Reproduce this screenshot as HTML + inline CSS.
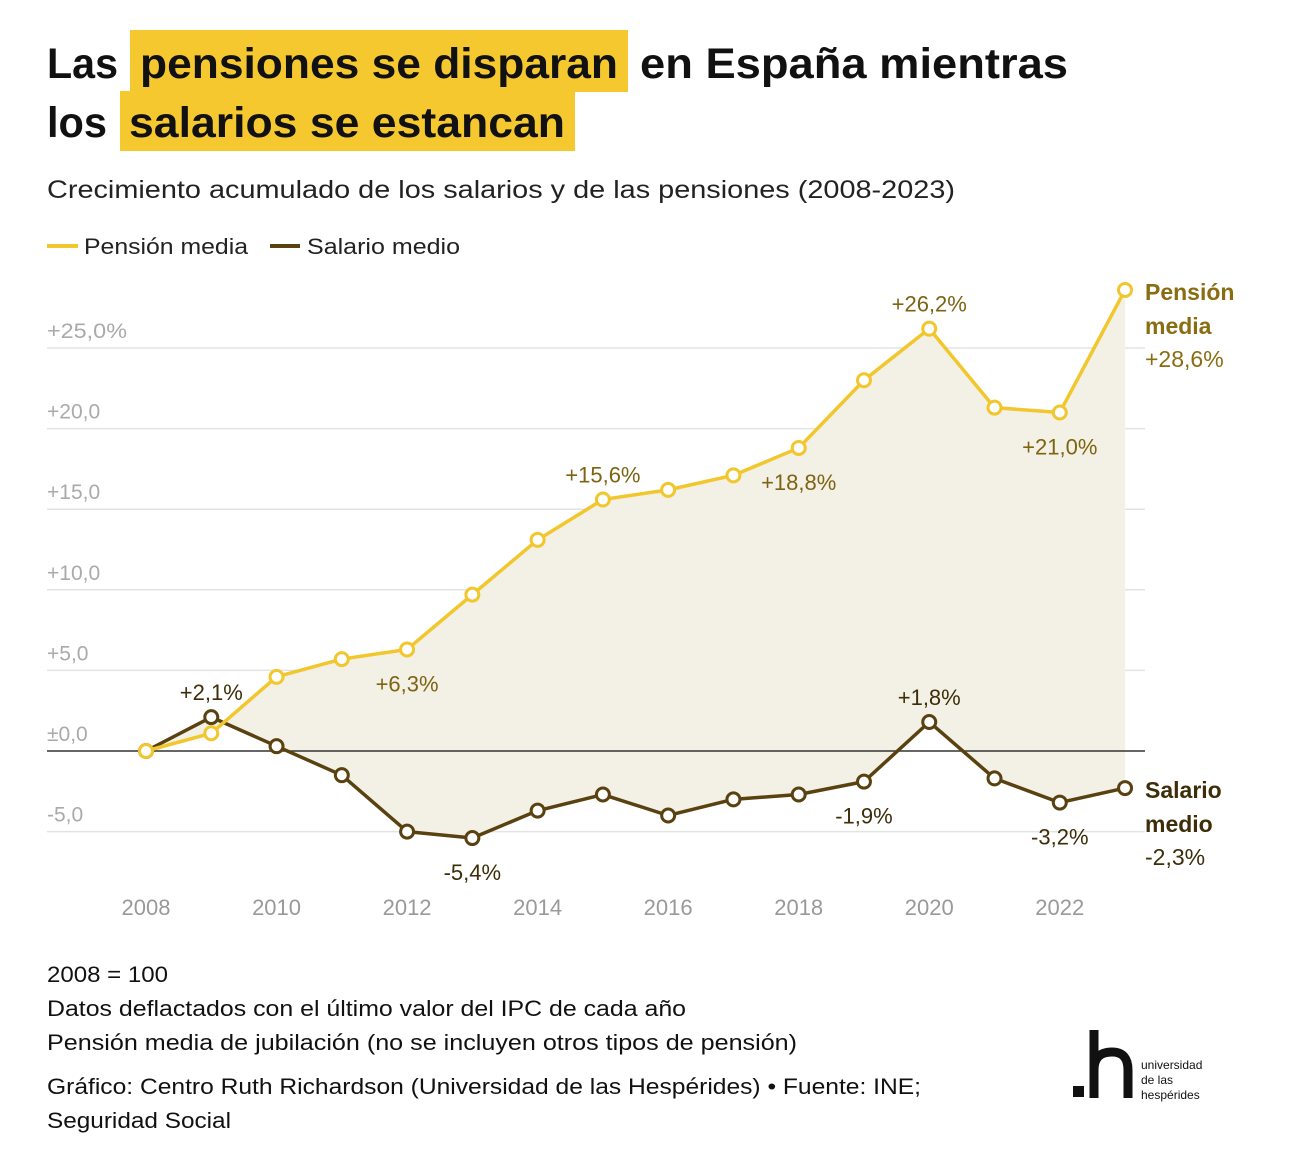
<!DOCTYPE html>
<html><head><meta charset="utf-8"><style>
body{margin:0;background:#fff;}
svg{display:block;font-family:"Liberation Sans","DejaVu Sans",sans-serif;}
</style></head><body>
<svg id="chart" width="1310" height="1168" viewBox="0 0 1310 1168">
<rect x="0" y="0" width="1310" height="1168" fill="#fff"/>
<rect x="130" y="30" width="498" height="62" fill="#f5c830"/>
<rect x="120" y="91" width="455" height="60" fill="#f5c830"/>
<g font-size="43" font-weight="bold" fill="#111">
<text x="47" y="78" textLength="71" lengthAdjust="spacingAndGlyphs">Las</text>
<text x="140" y="78" textLength="478" lengthAdjust="spacingAndGlyphs">pensiones se disparan</text>
<text x="640" y="78" textLength="428" lengthAdjust="spacingAndGlyphs">en España mientras</text>
<text x="47" y="137" textLength="60" lengthAdjust="spacingAndGlyphs">los</text>
<text x="129" y="137" textLength="436" lengthAdjust="spacingAndGlyphs">salarios se estancan</text>
</g>
<text x="47" y="198" font-size="25" fill="#222" textLength="908" lengthAdjust="spacingAndGlyphs">Crecimiento acumulado de los salarios y de las pensiones (2008-2023)</text>
<line x1="47" y1="246" x2="78" y2="246" stroke="#f2c72e" stroke-width="4"/>
<text x="84" y="254" font-size="22" fill="#222" textLength="164" lengthAdjust="spacingAndGlyphs">Pensión media</text>
<line x1="270" y1="246" x2="300" y2="246" stroke="#5a4210" stroke-width="4"/>
<text x="307" y="254" font-size="22" fill="#222" textLength="153" lengthAdjust="spacingAndGlyphs">Salario medio</text>
<g id="plot"></g>
<g font-size="22" fill="#111">
<text x="47" y="982" textLength="121" lengthAdjust="spacingAndGlyphs">2008 = 100</text>
<text x="47" y="1016" textLength="639" lengthAdjust="spacingAndGlyphs">Datos deflactados con el último valor del IPC de cada año</text>
<text x="47" y="1050" textLength="750" lengthAdjust="spacingAndGlyphs">Pensión media de jubilación (no se incluyen otros tipos de pensión)</text>
<text x="47" y="1094" textLength="874" lengthAdjust="spacingAndGlyphs">Gráfico: Centro Ruth Richardson (Universidad de las Hespérides) • Fuente: INE;</text>
<text x="47" y="1128" textLength="184" lengthAdjust="spacingAndGlyphs">Seguridad Social</text>
</g>
<g>
<rect x="1073" y="1086" width="11" height="11" fill="#111"/>
<path d="M1094 1030 V1098 M1094 1070 Q1094 1052 1112 1052 Q1128 1052 1128 1070 V1098" stroke="#111" stroke-width="9" fill="none"/>
<text x="1141" y="1069" font-size="12" fill="#111">universidad</text>
<text x="1141" y="1084" font-size="12" fill="#111">de las</text>
<text x="1141" y="1099" font-size="12" fill="#111">hespérides</text>
</g>
</svg>
<script>
const years=[2008,2009,2010,2011,2012,2013,2014,2015,2016,2017,2018,2019,2020,2021,2022,2023];
const pension=[0,1.1,4.6,5.7,6.3,9.7,13.1,15.6,16.2,17.1,18.8,23.0,26.2,21.3,21.0,28.6];
const salario=[0,2.1,0.3,-1.5,-5.0,-5.4,-3.7,-2.7,-4.0,-3.0,-2.7,-1.9,1.8,-1.7,-3.2,-2.3];
const yTicks=[25,20,15,10,5,0,-5];
const yTickLabels=["+25,0%","+20,0","+15,0","+10,0","+5,0","±0,0","-5,0"];
const xTicks=[2008,2010,2012,2014,2016,2018,2020,2022];
const pLabels={2012:"+6,3%",2015:"+15,6%",2018:"+18,8%",2020:"+26,2%",2022:"+21,0%"};
const sLabels={2009:"+2,1%",2013:"-5,4%",2019:"-1,9%",2020:"+1,8%",2022:"-3,2%"};
const X=y=>146+(y-2008)*65.27;
const Y=v=>751-v*16.12;
const NS="http://www.w3.org/2000/svg";
const g=document.getElementById('plot');
function mk(t,a,txt){const e=document.createElementNS(NS,t);for(const k in a)e.setAttribute(k,a[k]);if(txt!==undefined)e.textContent=txt;g.appendChild(e);return e;}
yTicks.forEach((v,i)=>{
 if(v!==0){const l=mk('line',{x1:47,x2:1145,y1:Y(v),y2:Y(v),stroke:'#e3e3e3','stroke-width':1.5});
 
 }
 const t=mk('text',{x:47,y:Y(v)-10,'font-size':21,fill:'#aaa'},yTickLabels[i]);
 if(i===0){t.setAttribute('textLength','80');t.setAttribute('lengthAdjust','spacingAndGlyphs');}
 
 
});
let d='';years.forEach((y,i)=>{d+=(i?'L':'M')+X(y)+' '+Y(pension[i]);});
for(let i=years.length-1;i>=0;i--)d+='L'+X(years[i])+' '+Y(salario[i]);
const area=mk('path',{d:d+'Z',fill:'#f3f0e5'});


const zl=mk('line',{x1:47,x2:1145,y1:Y(0),y2:Y(0),stroke:'#333','stroke-width':1.5});


xTicks.forEach(y=>{const t=mk('text',{x:X(y),y:915,'font-size':22,fill:'#999','text-anchor':'middle'},y);

});
function series(vals,color,name){
 const pts=years.map((y,i)=>X(y)+','+Y(vals[i])).join(' ');
 const l=mk('polyline',{points:pts,fill:'none',stroke:color,'stroke-width':3.5,'stroke-linejoin':'round'});
 
 
 years.forEach((y,i)=>{const c=mk('circle',{cx:X(y),cy:Y(vals[i]),r:6.5,fill:'#fff',stroke:color,'stroke-width':3});
 
 });
}
series(salario,'#5a4210','salario');
series(pension,'#f2c72e','pension');
years.forEach((y,i)=>{
 if(pLabels[y]){const above=(y===2015||y===2020);
  const t=mk('text',{x:X(y),y:above?Y(pension[i])-17:Y(pension[i])+42,'font-size':22,fill:'#7d6412','text-anchor':'middle'},pLabels[y]);
  
  }
 if(sLabels[y]){const above=(y===2009||y===2020);
  const t=mk('text',{x:X(y),y:above?Y(salario[i])-17:Y(salario[i])+42,'font-size':22,fill:'#3d2d08','text-anchor':'middle'},sLabels[y]);
  
  }
});
const n=years.length-1;
[['Pensión',Y(pension[n])+10,'bold','#8a6d10'],['media',Y(pension[n])+44,'bold','#8a6d10'],['+28,6%',Y(pension[n])+77,'normal','#8a6d10'],
 ['Salario',Y(salario[n])+10,'bold','#3d2d08'],['medio',Y(salario[n])+44,'bold','#3d2d08'],['-2,3%',Y(salario[n])+77,'normal','#3d2d08']].forEach(a=>{
 const t=mk('text',{x:1145,y:a[1],'font-size':23,'font-weight':a[2],fill:a[3]},a[0]);
 
 
});
</script>
</body></html>
